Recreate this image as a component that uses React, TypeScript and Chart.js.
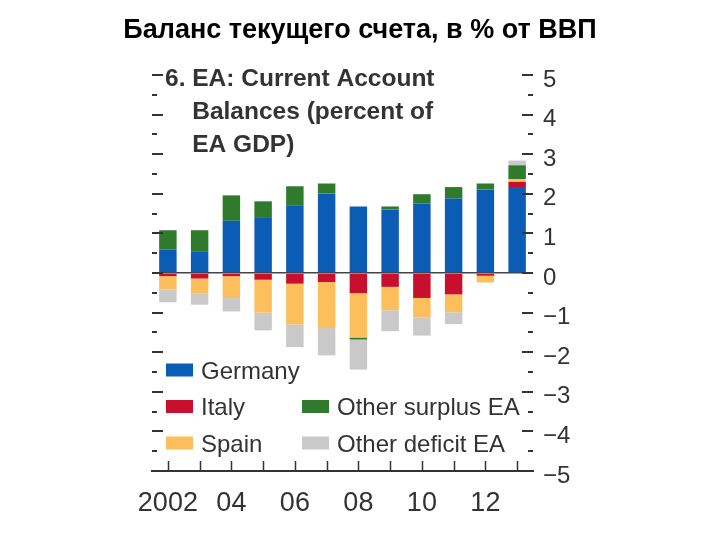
import React, { useEffect, useRef } from "react";
import { Chart, registerables } from "chart.js";

Chart.register(...registerables);

const mainTitle = "Баланс текущего счета, в % от ВВП";
const innerTitleLines = ["6. EA: Current Account", "Balances (percent of", "EA GDP)"];

const years = ["2002", "2003", "2004", "2005", "2006", "2007", "2008", "2009", "2010", "2011", "2012", "2013"];
const xTickLabels = ["2002", "", "04", "", "06", "", "08", "", "10", "", "12", ""];

const germany = [0.59, 0.55, 1.32, 1.39, 1.71, 2.01, 1.68, 1.6, 1.75, 1.88, 2.11, 2.17];
const italy = [-0.08, -0.14, -0.08, -0.17, -0.27, -0.23, -0.51, -0.35, -0.63, -0.54, -0.07, 0.13];
const spain = [-0.34, -0.38, -0.55, -0.83, -1.03, -1.16, -1.12, -0.59, -0.49, -0.45, -0.17, 0.07];
const otherSurplus = [0.49, 0.53, 0.64, 0.42, 0.48, 0.25, -0.05, 0.08, 0.24, 0.29, 0.15, 0.35];
const otherDeficit = [-0.32, -0.28, -0.34, -0.45, -0.57, -0.69, -0.76, -0.53, -0.46, -0.3, 0, 0.12];

const seriesLabels = ["Germany", "Italy", "Spain", "Other surplus EA", "Other deficit EA"];
const seriesColors = ["#0a5cb4", "#c8102e", "#fcbf5c", "#2f7a2c", "#c9c9c9"];

const yMin = -5;
const yMax = 5;

const FONT = "'Liberation Sans', Arial, sans-serif";
const TEXT = "#333333";

const decorPlugin = {
  id: "decor",
  afterDraw(chart: any) {
    const { ctx, chartArea, scales } = chart;
    const ys = scales.y;
    const xs = scales.x;
    ctx.save();

    // main title
    ctx.fillStyle = "#000";
    ctx.font = `bold 27px ${FONT}`;
    ctx.textAlign = "center";
    ctx.textBaseline = "middle";
    ctx.fillText(mainTitle, chart.width / 2, 31);

    // inward ticks on left and right sides
    ctx.strokeStyle = TEXT;
    ctx.lineWidth = 2;
    for (let v = yMin; v <= yMax + 1e-9; v += 0.5) {
      const py = Math.round(ys.getPixelForValue(v));
      const major = Math.abs(v - Math.round(v)) < 1e-9;
      const len = major ? 11 : 5;
      ctx.beginPath();
      ctx.moveTo(chartArea.left, py);
      ctx.lineTo(chartArea.left + len, py);
      ctx.moveTo(chartArea.right - len, py);
      ctx.lineTo(chartArea.right, py);
      ctx.stroke();
    }

    // x ticks pointing up from the axis
    ctx.lineWidth = 1.5;
    for (let i = 0; i < years.length; i++) {
      const px = Math.round(xs.getPixelForValue(i)) + 0.5;
      ctx.beginPath();
      ctx.moveTo(px, chartArea.bottom);
      ctx.lineTo(px, chartArea.bottom - 10);
      ctx.stroke();
    }

    // inner title
    ctx.fillStyle = TEXT;
    ctx.font = `bold 24.5px ${FONT}`;
    ctx.textAlign = "left";
    ctx.textBaseline = "middle";
    const tx = chartArea.left + 13;
    const indent = ctx.measureText("6. ").width;
    innerTitleLines.forEach((line, i) => {
      ctx.fillText(line, i === 0 ? tx : tx + indent, chartArea.top + 4 + i * 33);
    });

    // legend
    const ds = chart.data.datasets;
    const slots = [
      [0, 0],
      [0, 1],
      [0, 2],
      [1, 1],
      [1, 2],
    ];
    ctx.font = `24px ${FONT}`;
    const lx = chartArea.left + 14;
    const colW = 136;
    const rowY0 = chartArea.bottom - 101;
    const rowH = 36.5;
    ds.forEach((d: any, i: number) => {
      const [c, r] = slots[i];
      const x0 = lx + c * colW;
      const y0 = rowY0 + r * rowH;
      ctx.fillStyle = d.backgroundColor;
      ctx.fillRect(x0, y0 - 6.5, 27, 13);
      ctx.fillStyle = TEXT;
      ctx.fillText(d.label, x0 + 35, y0 + 2);
    });

    ctx.restore();
  },
};

export default function App() {
  const canvasRef = useRef<HTMLCanvasElement | null>(null);

  useEffect(() => {
    document.body.style.margin = "0";
    const canvas = canvasRef.current;
    if (!canvas) return;
    const series = [germany, italy, spain, otherSurplus, otherDeficit];
    const chart = new Chart(canvas, {
      type: "bar",
      data: {
        labels: years,
        datasets: series.map((data, i) => ({
          label: seriesLabels[i],
          data,
          backgroundColor: seriesColors[i],
          borderWidth: 0,
          barPercentage: 0.55,
          categoryPercentage: 1.0,
        })),
      },
      options: {
        responsive: false,
        animation: false,
        devicePixelRatio: 1,
        layout: { padding: { left: 152, right: 127, top: 75, bottom: 0 } },
        plugins: {
          legend: { display: false },
          title: { display: false },
          tooltip: { enabled: false },
        },
        scales: {
          x: {
            stacked: true,
            grid: { display: false, drawTicks: false },
            border: { display: true, color: TEXT, width: 2 },
            ticks: {
              autoSkip: false,
              maxRotation: 0,
              minRotation: 0,
              color: TEXT,
              font: { family: FONT, size: 27 },
              padding: 16,
              callback: (_v: any, i: number) => xTickLabels[i],
            },
            afterFit: (s: any) => {
              s.height = 69;
            },
          },
          y: {
            stacked: true,
            position: "right",
            min: yMin,
            max: yMax,
            z: 1,
            grid: {
              drawTicks: false,
              color: (c: any) => (c.tick && c.tick.value === 0 ? "#444" : "rgba(0,0,0,0)"),
              lineWidth: 1.5,
            },
            border: { display: false },
            ticks: {
              stepSize: 1,
              color: TEXT,
              font: { family: FONT, size: 24 },
              padding: 10,
              labelOffset: 5,
              callback: (v: any) => (v < 0 ? "\u2212" + Math.abs(v) : String(v)),
            },
            afterFit: (s: any) => {
              s.width = 60;
            },
          },
        },
      },
      plugins: [decorPlugin],
    });
    return () => chart.destroy();
  }, []);

  return (
    <div style={{ width: 720, height: 540 }}>
      <canvas ref={canvasRef} width={720} height={540} style={{ display: "block" }} />
    </div>
  );
}
